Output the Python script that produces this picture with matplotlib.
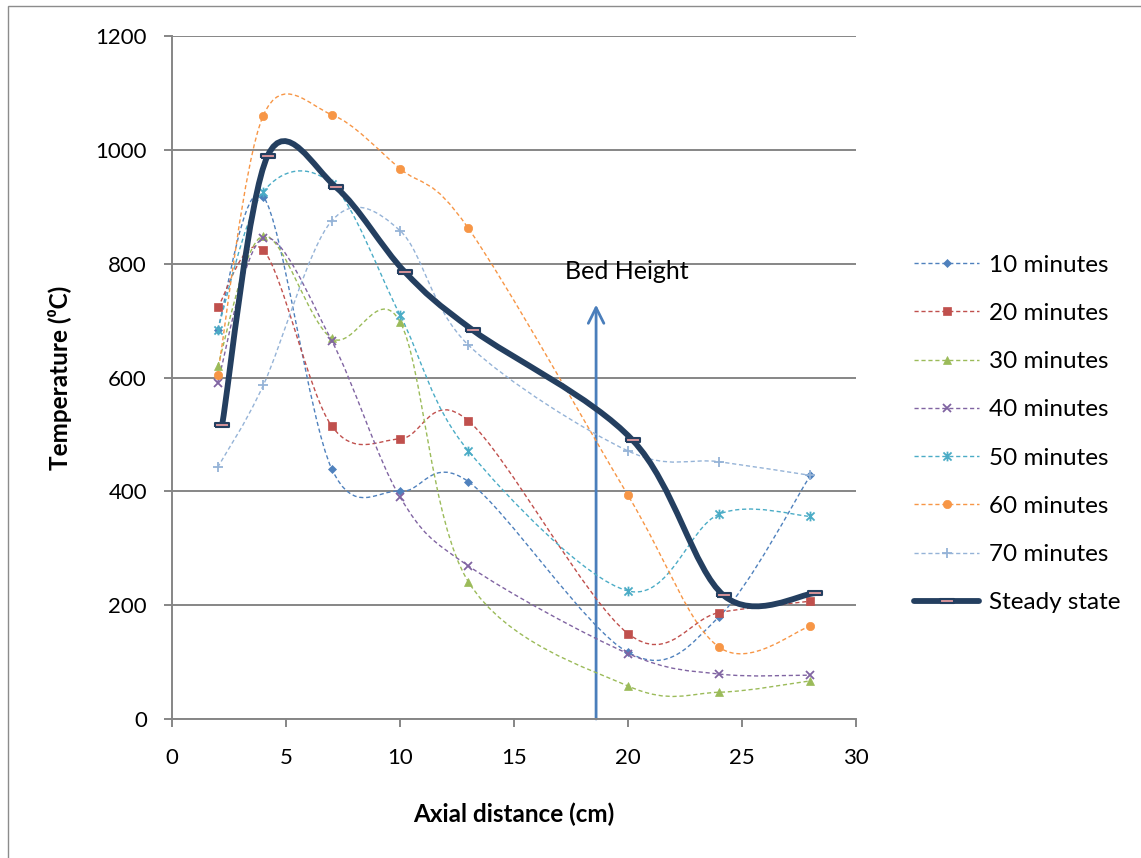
import numpy as np
import matplotlib.pyplot as plt
from matplotlib.path import Path
from matplotlib.patches import PathPatch, Rectangle
from matplotlib.lines import Line2D

plt.rcParams['font.family'] = ['Lato', 'DejaVu Sans']

# --- data ---
x_pos = [2, 4, 7, 10, 13, 20, 24, 28]
x_steady = [2.2, 4.2, 7.2, 10.2, 13.2, 20.2, 24.2, 28.2]

t10 = [684, 918, 440, 400, 417, 117, 180, 428]
t20 = [723, 824, 515, 492, 524, 150, 187, 207]
t30 = [620, 849, 669, 698, 241, 58, 47, 67]
t40 = [591, 845, 665, 390, 269, 115, 79, 77]
t50 = [684, 926, 940, 710, 471, 225, 360, 356]
t60 = [605, 1060, 1062, 967, 862, 393, 126, 163]
t70 = [442, 586, 875, 858, 657, 471, 452, 428]
steady = [517, 990, 934, 786, 683, 490, 217, 221]

labels = ['10 minutes', '20 minutes', '30 minutes', '40 minutes',
          '50 minutes', '60 minutes', '70 minutes', 'Steady state']

bed_x = 18.6
bed_top = 728

# asterisk marker (x + vertical bar), like Excel's "star"
star = Path([(-1, -1), (1, 1), (-1, 1), (1, -1), (0, -1.2), (0, 1.2)],
            [Path.MOVETO, Path.LINETO, Path.MOVETO, Path.LINETO, Path.MOVETO, Path.LINETO])
dash_box = Path([(-1, -0.33), (1, -0.33), (1, 0.33), (-1, 0.33), (-1, -0.33)])

styles = [
    dict(color='#4F81BD', marker='D', ms=4.5),
    dict(color='#C0504D', marker='s', ms=6),
    dict(color='#9BBB59', marker='^', ms=6),
    dict(color='#8064A2', marker='x', ms=6),
    dict(color='#4BACC6', marker=star, ms=7),
    dict(color='#F79646', marker='o', ms=6),
    dict(color='#95B3D7', marker='+', ms=7),
]


def smooth_path(xs, ys):
    # Excel-style smoothed line as cubic bezier segments
    pts = np.column_stack([xs, ys]).astype(float)
    n = len(pts)
    verts = [pts[0]]
    codes = [Path.MOVETO]
    for i in range(n - 1):
        p0 = pts[max(i - 1, 0)]
        p1 = pts[i]
        p2 = pts[i + 1]
        p3 = pts[min(i + 2, n - 1)]
        c1 = p1 + (p2 - p0) / 6.0
        c2 = p2 - (p3 - p1) / 6.0
        verts += [c1, c2, p2]
        codes += [Path.CURVE4] * 3
    return Path(verts, codes)


fig = plt.figure(figsize=(11.41, 8.58), dpi=100)
ax = fig.add_axes([172 / 1141, 1 - 719 / 858, 684 / 1141, 683 / 858])

series = [t10, t20, t30, t40, t50, t60, t70]
handles = []
for vals, st, lab in zip(series, styles, labels):
    ax.add_patch(PathPatch(smooth_path(x_pos, vals), fill=False, edgecolor=st['color'],
                           lw=1.0, linestyle=(0, (3, 2)), zorder=3))
    mew = 1.3 if st['marker'] in ('x', '+') or st['marker'] is star else 0.5
    ax.plot(x_pos, vals, ls='none', marker=st['marker'], ms=st['ms'], color=st['color'],
            mec=st['color'], mew=mew, zorder=4)
    handles.append(Line2D([], [], color=st['color'], lw=1.0, linestyle=(0, (3, 2)),
                          marker=st['marker'], ms=st['ms'], mew=mew))

navy = '#243F60'
ax.add_patch(PathPatch(smooth_path(x_steady, steady), fill=False, edgecolor=navy,
                       lw=4.2, capstyle='round', joinstyle='round', zorder=5))
ax.plot(x_steady, steady, ls='none', marker=dash_box, ms=10, mfc='#D9959B', mec=navy,
        mew=1.5, zorder=6)
handles.append(Line2D([], [], color=navy, lw=4.2, solid_capstyle='round',
                      marker=dash_box, ms=10, mfc='#D9959B', mec=navy, mew=1.5))

# bed height arrow
ax.annotate('', xy=(bed_x, bed_top), xytext=(bed_x, 0),
            arrowprops=dict(arrowstyle='->', color='#4A7EBB', lw=2, mutation_scale=28,
                            shrinkA=0, shrinkB=0), zorder=2)
ax.text(19.96, 786, 'Bed Height', ha='center', va='center', fontsize=18)

ax.set_xlim(0, 30)
ax.set_ylim(0, 1200)
ax.set_xticks(range(0, 31, 5))
ax.set_yticks(range(0, 1201, 200))
ax.grid(axis='y', color='#868686', lw=1.4)
ax.set_axisbelow(True)
for s in ['top', 'right']:
    ax.spines[s].set_visible(False)
for s in ['left', 'bottom']:
    ax.spines[s].set_color('#868686')
    ax.spines[s].set_linewidth(1.4)
ax.tick_params(axis='both', direction='out', length=6, width=1.4, color='#868686',
               labelsize=16)
ax.tick_params(axis='y', pad=12)
ax.tick_params(axis='x', pad=15)

fig.text(514 / 1141, 1 - 814 / 858, 'Axial distance (cm)', ha='center', va='center',
         fontsize=17.5, fontweight='bold')
fig.text(60 / 1141, 1 - 378 / 858, 'Temperature (\u2070C)', ha='center', va='center',
         rotation=90, fontsize=17.5, fontweight='bold')

fig.legend(handles, labels, loc='center left', bbox_to_anchor=(904 / 1141, 1 - 434 / 858),
           frameon=False, fontsize=17.5, handlelength=2.7, handletextpad=0.4,
           labelspacing=1.12, borderaxespad=0)

# chart area outline
fig.patches.append(Rectangle((7.5 / 1141, -0.1), 2, 1.1 - 6 / 858, transform=fig.transFigure,
                             fill=False, edgecolor='#8C8C8C', lw=1.0))

fig.savefig('out.png', dpi=100)
